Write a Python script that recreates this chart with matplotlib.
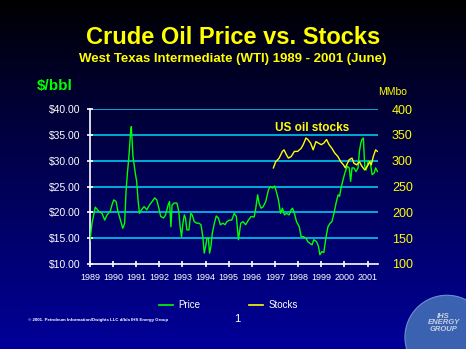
import matplotlib.pyplot as plt
import numpy as np
from matplotlib.patches import Ellipse

plt.rcParams['font.family'] = ['Liberation Sans', 'DejaVu Sans']

# WTI price, $/bbl
price_t = [1989.00, 1989.09, 1989.23, 1989.38, 1989.52, 1989.64, 1989.74, 1989.88, 1989.95,
           1990.03, 1990.13, 1990.21, 1990.32, 1990.42, 1990.50, 1990.56, 1990.62, 1990.68,
           1990.72, 1990.76, 1990.79, 1990.82, 1990.86, 1990.92, 1990.97, 1991.02, 1991.08,
           1991.14, 1991.23, 1991.34, 1991.46, 1991.57, 1991.69, 1991.80, 1991.89, 1991.98,
           1992.06, 1992.18, 1992.27, 1992.38, 1992.44, 1992.50, 1992.55, 1992.64, 1992.76,
           1992.84, 1992.90, 1992.96, 1993.02, 1993.08, 1993.13, 1993.19, 1993.28, 1993.36,
           1993.42, 1993.51, 1993.62, 1993.71, 1993.80, 1993.88, 1993.94, 1994.00, 1994.06,
           1994.12, 1994.17, 1994.23, 1994.29, 1994.38, 1994.46, 1994.55, 1994.64, 1994.75,
           1994.84, 1994.92, 1995.04, 1995.13, 1995.24, 1995.33, 1995.42, 1995.52, 1995.62,
           1995.73, 1995.85, 1995.97, 1996.10, 1996.17, 1996.25, 1996.31, 1996.40, 1996.49,
           1996.60, 1996.72, 1996.80, 1996.89, 1996.98, 1997.06, 1997.15, 1997.24, 1997.32,
           1997.41, 1997.50, 1997.61, 1997.70, 1997.76, 1997.84, 1997.93, 1998.05, 1998.13,
           1998.22, 1998.34, 1998.42, 1998.51, 1998.60, 1998.68, 1998.80, 1998.88, 1998.94,
           1999.03, 1999.11, 1999.20, 1999.29, 1999.38, 1999.46, 1999.55, 1999.64, 1999.73,
           1999.79, 1999.87, 1999.96, 2000.04, 2000.13, 2000.21, 2000.27, 2000.33, 2000.41,
           2000.50, 2000.59, 2000.65, 2000.71, 2000.76, 2000.82, 2000.88, 2000.94, 2001.03,
           2001.11, 2001.20, 2001.29, 2001.35, 2001.43]
price = [14.5, 17.9, 21.0, 20.2, 19.8, 18.5, 19.5, 20.2, 21.4,
         22.4, 22.1, 20.2, 18.5, 16.9, 17.9, 24.0, 27.6, 30.5,
         33.1, 35.7, 36.6, 34.0, 30.8, 28.9, 27.3, 26.0, 22.4,
         19.8, 20.5, 21.1, 20.5, 21.4, 22.1, 22.8, 22.4, 20.8,
         19.2, 18.9, 19.5, 21.4, 22.1, 17.2, 21.4, 21.8, 21.8,
         20.2, 17.2, 15.3, 17.9, 19.5, 18.9, 16.6, 16.6, 19.8,
         19.5, 18.2, 17.9, 17.9, 17.6, 15.3, 12.1, 13.4, 15.0,
         15.0, 12.1, 13.4, 16.0, 17.9, 19.3, 18.9, 17.6, 17.9,
         17.6, 18.2, 18.5, 18.5, 19.8, 19.2, 14.7, 17.9, 18.2,
         17.6, 18.5, 19.2, 19.1, 20.8, 23.4, 21.8, 20.8, 21.1,
         22.1, 24.4, 25.0, 24.7, 25.1, 24.0, 22.4, 19.8, 20.8,
         19.5, 19.8, 19.5, 20.5, 20.8, 19.8, 18.2, 17.2, 15.3,
         15.3, 15.0, 14.3, 14.0, 13.7, 14.7, 14.3, 13.4, 11.8,
         12.4, 12.2, 15.0, 17.2, 17.9, 18.2, 19.8, 21.8, 23.4,
         23.1, 25.0, 26.6, 27.9, 28.9, 28.6, 26.0, 28.6, 28.6,
         27.9, 28.6, 31.8, 33.4, 34.1, 34.4, 28.9, 28.2, 29.9,
         29.9, 27.3, 27.6, 28.6, 27.9]

# US oil stocks, MMbo
stock_t = [1996.93, 1997.03, 1997.18, 1997.32, 1997.39, 1997.50, 1997.58, 1997.70, 1997.84,
           1997.98, 1998.13, 1998.22, 1998.34, 1998.42, 1998.54, 1998.65, 1998.77, 1998.88,
           1999.00, 1999.11, 1999.23, 1999.34, 1999.46, 1999.58, 1999.72, 1999.84, 1999.96,
           2000.04, 2000.13, 2000.21, 2000.33, 2000.41, 2000.53, 2000.65, 2000.76, 2000.88,
           2000.94, 2001.03, 2001.09, 2001.16, 2001.25, 2001.35, 2001.43]
stocks = [286, 298, 305, 318, 321, 311, 305, 308, 318,
          318, 324, 331, 344, 341, 334, 321, 337, 334,
          331, 334, 341, 331, 324, 315, 308, 298, 292,
          286, 295, 302, 305, 295, 292, 298, 289, 282,
          286, 292, 298, 292, 308, 321, 318]

years = list(range(1989, 2002))
price_ticks = [10, 15, 20, 25, 30, 35, 40]
stock_ticks = [100, 150, 200, 250, 300, 350, 400]

fig = plt.figure(figsize=(4.66, 3.49), dpi=100)

# slide background: black at the top fading into navy
bg = fig.add_axes([0, 0, 1, 1])
g = np.linspace(0, 1, 256).reshape(-1, 1)   # 0 = top, 1 = bottom
b = np.clip(0.6 * g ** 0.9, 0, 1)
img = np.dstack([np.zeros_like(g), np.zeros_like(g), b])
bg.imshow(img, aspect='auto', extent=[0, 1, 0, 1], origin='upper')
bg.set_xlim(0, 1)
bg.set_ylim(0, 1)
bg.axis('off')

fig.text(0.5, 0.893, 'Crude Oil Price vs. Stocks', color='#ffff00', fontsize=17,
         fontweight='bold', ha='center', va='center')
fig.text(0.5, 0.831, 'West Texas Intermediate (WTI) 1989 - 2001 (June)', color='#ffff00',
         fontsize=9.5, fontweight='bold', ha='center', va='center')
fig.text(0.078, 0.753, '$/bbl', color='#00ff00', fontsize=11, fontweight='bold',
         ha='left', va='center')
fig.text(0.812, 0.736, 'MMbo', color='#ffff00', fontsize=7.5, ha='left', va='center')

ax = fig.add_axes([0.193, 0.2436, 0.618, 0.444])
ax.set_facecolor('none')
for y in price_ticks[1:]:
    ax.axhline(y, color='#00c8f0', lw=1.2, zorder=1)
ax.plot(price_t, price, color='#00ff00', lw=1.0, zorder=3)
ax.set_xlim(1989, 2001.45)
ax.set_ylim(10, 40)
ax.set_yticks(price_ticks)
ax.set_yticklabels(['$%.2f' % v for v in price_ticks])
ax.set_xticks(years)
ax.set_xticklabels([str(y) for y in years])
for s in ['top', 'right']:
    ax.spines[s].set_visible(False)
for s in ['left', 'bottom']:
    ax.spines[s].set_color('white')
    ax.spines[s].set_linewidth(1.2)
ax.tick_params(axis='both', colors='white', direction='inout', length=5, width=1.2)
ax.tick_params(axis='y', labelsize=7.5, pad=4)
ax.tick_params(axis='x', labelsize=6.5, pad=4)

ax2 = ax.twinx()
ax2.plot(stock_t, stocks, color='#ffff00', lw=1.0, zorder=3)
ax2.set_ylim(100, 400)
ax2.set_yticks(stock_ticks)
for s in ax2.spines.values():
    s.set_visible(False)
ax2.tick_params(axis='y', colors='#ffff00', length=0, labelsize=9, pad=10)
ax2.text(1998.6, 364, 'US oil stocks', color='#ffff00', fontsize=8.5, fontweight='bold',
         ha='center', va='center')

# legend
fig.legend(handles=[plt.Line2D([], [], color='#00ff00', lw=1.2),
                    plt.Line2D([], [], color='#ffff00', lw=1.2)],
           labels=['Price', 'Stocks'], loc='center', bbox_to_anchor=(0.49, 0.126),
           ncol=2, frameon=False, fontsize=7, labelcolor='white',
           handlelength=1.4, handletextpad=0.6, columnspacing=5)

fig.text(0.06, 0.083, '\u00a9 2001. Petroleum Information/Dwights LLC d/b/a IHS Energy Group',
         color='white', fontsize=3.2, fontweight='bold', ha='left', va='center')
fig.text(0.51, 0.087, '1', color='white', fontsize=8, ha='center', va='center')

# logo globe, bottom right corner
globe = Ellipse((0.959, 0.034), 0.18, 0.24, transform=fig.transFigure,
                facecolor='#3a62b0', edgecolor='#6f90d0', lw=0.8, zorder=5)
bg.add_patch(globe)
fig.text(0.952, 0.075, 'IHS\nENERGY\nGROUP', color='#c8d0e0', fontsize=5.5,
         fontweight='bold', style='italic', ha='center', va='center', linespacing=0.85)

fig.savefig('out.png', dpi=100, facecolor='black')
